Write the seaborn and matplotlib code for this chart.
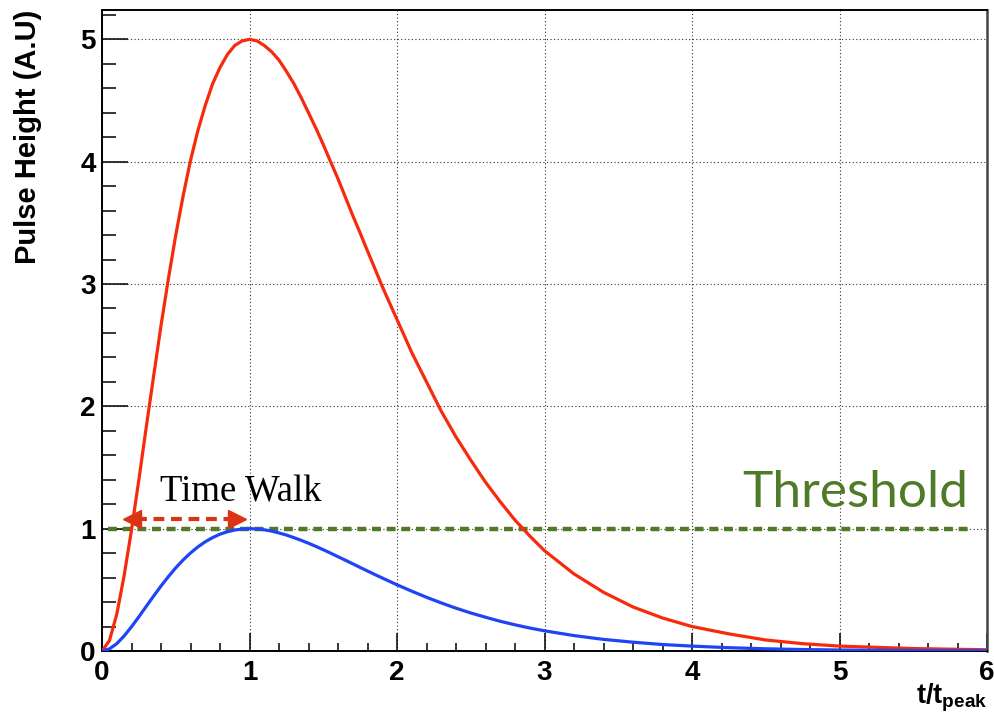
import matplotlib
matplotlib.use("Agg")
import matplotlib.pyplot as plt
import seaborn as sns
import pandas as pd
from matplotlib.ticker import MultipleLocator

# ---- data ----
t_ratio = [0.00, 0.05, 0.10, 0.15, 0.20, 0.25, 0.30, 0.35, 0.40, 0.45,
           0.50, 0.55, 0.60, 0.65, 0.70, 0.75, 0.80, 0.85, 0.90, 0.95,
           1.00, 1.05, 1.10, 1.15, 1.20, 1.25, 1.30, 1.35, 1.40, 1.45,
           1.50, 1.55, 1.60, 1.65, 1.70, 1.75, 1.80, 1.85, 1.90, 1.95,
           2.00, 2.1, 2.2, 2.3, 2.4, 2.5, 2.6, 2.7, 2.8, 2.9,
           3.0, 3.2, 3.4, 3.6, 3.8, 4.0, 4.25, 4.5, 4.75, 5.0, 5.5, 6.0]
large_pulse = [0.00, 0.084, 0.30, 0.616, 0.99, 1.400, 1.83, 2.247, 2.66, 3.042,
               3.40, 3.720, 4.01, 4.254, 4.46, 4.637, 4.77, 4.876, 4.95, 4.987,
               5.00, 4.988, 4.95, 4.899, 4.83, 4.739, 4.64, 4.525, 4.40, 4.274,
               4.14, 3.999, 3.86, 3.710, 3.56, 3.417, 3.27, 3.126, 2.98, 2.844,
               2.71, 2.44, 2.20, 1.96, 1.75, 1.56, 1.38, 1.22, 1.07, 0.94,
               0.82, 0.63, 0.48, 0.36, 0.27, 0.20, 0.14, 0.09, 0.06, 0.04, 0.02, 0.01]
small_pulse = [0.000, 0.017, 0.060, 0.123, 0.198, 0.280, 0.365, 0.449, 0.531, 0.608,
               0.680, 0.744, 0.801, 0.851, 0.893, 0.927, 0.955, 0.975, 0.989, 0.997,
               1.000, 0.998, 0.991, 0.980, 0.965, 0.948, 0.927, 0.905, 0.881, 0.855,
               0.828, 0.800, 0.771, 0.742, 0.713, 0.683, 0.654, 0.625, 0.597, 0.569,
               0.541, 0.489, 0.439, 0.393, 0.350, 0.311, 0.276, 0.243, 0.214, 0.188,
               0.165, 0.126, 0.095, 0.072, 0.053, 0.040, 0.027, 0.018, 0.012, 0.008, 0.004, 0.002]

threshold_level = 1.0
threshold_span = [0.04, 5.9]
walk_start, walk_end, walk_y = 0.143, 0.97, 1.08

x_ticks = [0, 1, 2, 3, 4, 5, 6]
y_ticks = [0, 1, 2, 3, 4, 5]

# ---- styling ----
sns.set_theme(style="white")
plt.rcParams['font.family'] = ['Liberation Sans', 'DejaVu Sans']
plt.rcParams['mathtext.fontset'] = 'custom'
plt.rcParams['mathtext.bf'] = 'Liberation Sans:bold'
plt.rcParams['mathtext.rm'] = 'Liberation Sans:bold'
plt.rcParams['mathtext.it'] = 'Liberation Sans:bold'
plt.rcParams['text.color'] = 'black'
plt.rcParams['axes.labelcolor'] = 'black'
plt.rcParams['xtick.color'] = 'black'
plt.rcParams['ytick.color'] = 'black'

RED = '#f82a0c'
BLUE = '#1f44f5'
GREEN = '#4f7a27'
ARROW = '#dd3315'

fig = plt.figure(figsize=(9.94, 7.2), dpi=100)
ax = fig.add_axes([102/994, 1 - 651/720, (987-102)/994, (651-10)/720])

df = pd.DataFrame({'t': t_ratio, 'large': large_pulse, 'small': small_pulse})
sns.lineplot(data=df, x='t', y='large', ax=ax, color=RED, lw=2.3, zorder=4)
sns.lineplot(data=df, x='t', y='small', ax=ax, color=BLUE, lw=2.3, zorder=4)

# threshold line
ax.plot(threshold_span, [threshold_level, threshold_level], color=GREEN, lw=3.2,
        linestyle=(0, (2.0, 1.3)), zorder=3, solid_capstyle='butt')

# time walk arrow
ax.plot([walk_start + 0.09, walk_end - 0.09], [walk_y, walk_y], color=ARROW, lw=3.0,
        linestyle=(0, (2.6, 1.6)), zorder=5)
ax.plot([walk_start + 0.058], [walk_y], marker='<', ms=12.5, color=ARROW, mec=ARROW, zorder=6)
ax.plot([walk_end - 0.058], [walk_y], marker='>', ms=12.5, color=ARROW, mec=ARROW, zorder=6)

ax.text(0.39, 1.22, 'Time Walk', family=['Liberation Serif', 'DejaVu Serif'],
        fontsize=26.5, color='black', ha='left', va='baseline', zorder=6)
ax.text(5.875, 1.175, 'Threshold', family=['Lato', 'DejaVu Sans'],
        fontsize=37, color=GREEN, ha='right', va='baseline', zorder=6)

ax.set_xlim(0, 6)
ax.set_ylim(0, 5.24)
ax.set_xticks(x_ticks)
ax.set_yticks(y_ticks)
ax.set_xticklabels([str(v) for v in x_ticks])
ax.set_yticklabels([str(v) for v in y_ticks])
ax.xaxis.set_minor_locator(MultipleLocator(0.2))
ax.yaxis.set_minor_locator(MultipleLocator(0.2))

ax.tick_params(axis='x', which='major', direction='in', length=13, width=1.1,
               labelsize=20, pad=6.5, color='black', labelcolor='black', bottom=True, top=False)
ax.tick_params(axis='x', which='minor', direction='in', length=6, width=1.1,
               color='black', bottom=True, top=False)
ax.tick_params(axis='y', which='major', direction='in', length=19, width=1.1,
               labelsize=20, pad=4.5, color='black', labelcolor='black', left=True, right=False)
ax.tick_params(axis='y', which='minor', direction='in', length=10, width=1.1,
               color='black', left=True, right=False)
for lab in ax.get_xticklabels() + ax.get_yticklabels():
    lab.set_fontweight('bold')

ax.grid(True, which='major', color='#333333', lw=0.8, linestyle=(0, (1, 2.2)))
ax.set_axisbelow(True)

for s in ax.spines.values():
    s.set_color('black')
    s.set_linewidth(1.4)
ax.spines['right'].set_color('#444444')
ax.spines['right'].set_linewidth(1.8)

ax.set_ylabel('Pulse Height (A.U)', fontsize=21, fontweight='bold', loc='top', color='black')
ax.yaxis.set_label_coords(-0.068, 1.0)
ax.set_xlabel(r'$\mathbf{t/t_{peak}}$', fontsize=19.5, loc='right', color='black')
ax.xaxis.set_label_coords(1.0, -0.048)
ax.xaxis.label.set_va('top')

fig.savefig('out.png', dpi=100)
